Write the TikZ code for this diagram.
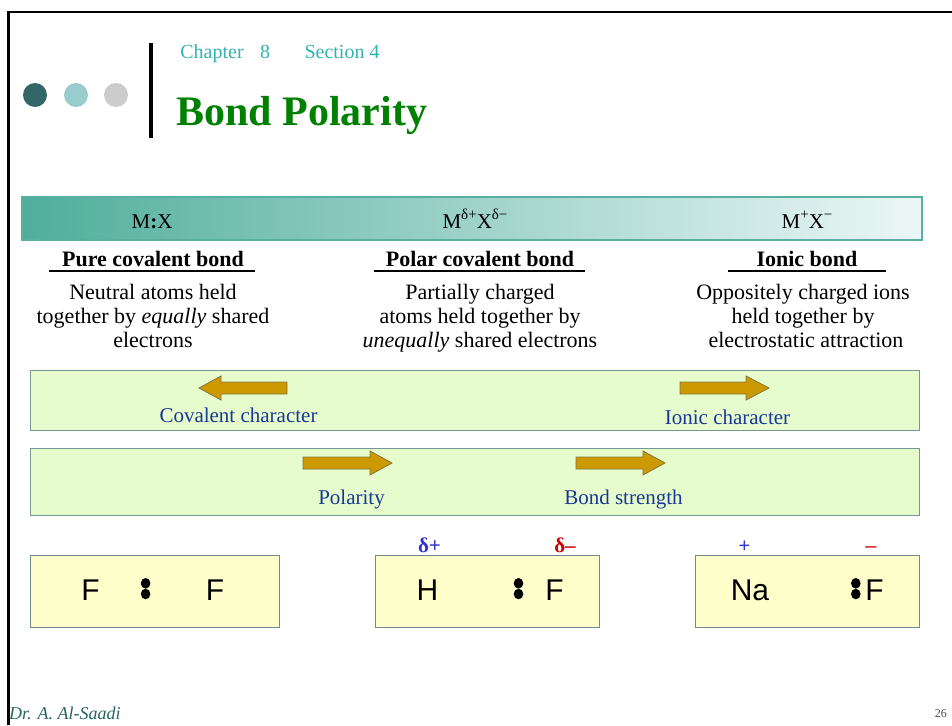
\documentclass[tikz,border=0pt]{standalone}
\usepackage{fontspec}
\setmainfont{Liberation Serif}
\newfontfamily\arialf{Liberation Sans}
\newcommand\mysupx[1]{\raisebox{0.42em}{\fontsize{15}{15}\selectfont #1}}
\definecolor{chapc}{RGB}{51,178,178}
\definecolor{titlec}{RGB}{0,128,0}
\definecolor{dotA}{RGB}{51,102,102}
\definecolor{dotB}{RGB}{153,204,204}
\definecolor{dotC}{RGB}{204,204,204}
\definecolor{gradL}{RGB}{80,174,156}
\definecolor{gradM}{RGB}{214,239,235}
\definecolor{gradR}{RGB}{236,247,247}
\definecolor{gradB}{RGB}{90,176,160}
\definecolor{bandfill}{RGB}{230,252,204}
\definecolor{bandborder}{RGB}{120,150,150}
\definecolor{boxfill}{RGB}{255,255,204}
\definecolor{boxborder}{RGB}{110,140,140}
\definecolor{arrowfill}{RGB}{204,153,0}
\definecolor{arrowborder}{RGB}{128,120,60}
\definecolor{navy}{RGB}{25,55,150}
\definecolor{plusc}{RGB}{51,51,204}
\definecolor{minusc}{RGB}{204,0,0}
\definecolor{footc}{RGB}{40,100,100}
\begin{document}
\begin{tikzpicture}[x=1pt,y=-1pt,
  txt/.style={anchor=base,inner sep=0pt},
  desc/.style={txt,font=\fontsize{22}{22}\selectfont},
  headtxt/.style={txt,font=\bfseries\fontsize{22}{22}\selectfont},
  bartxt/.style={txt,font=\fontsize{21}{21}\selectfont},
  lbl/.style={txt,text=navy,font=\fontsize{21}{21}\selectfont},
  atom/.style={txt,font=\arialf\fontsize{30}{30}\selectfont},
  charge/.style={txt,font=\bfseries\fontsize{21}{21}\selectfont},
  band/.style={draw=bandborder,fill=bandfill,line width=1pt},
  atombox/.style={draw=boxborder,fill=boxfill,line width=1pt},
  arrowshape/.style={fill=arrowfill,draw=arrowborder,line width=0.8pt},
  edot/.style={fill=black}]
\useasboundingbox (0,0) rectangle (952,725);
\fill[white] (0,0) rectangle (952,725);
% frame
\draw[line width=2.5pt] (8.3,725) -- (8.3,12) -- (952,12);
% dots and bar
\fill[dotA] (35,95) circle (12);
\fill[dotB] (76,95) circle (12);
\fill[dotC] (116,95) circle (12);
\fill[black] (149,43) rectangle (153,138);
% titles
\node[txt,text=chapc,font=\fontsize{20}{20}\selectfont] (chap) at (212,59) {Chapter};
\node[txt,text=chapc,font=\fontsize{20}{20}\selectfont] (chapn) at (265,59) {8};
\node[txt,text=chapc,font=\fontsize{20}{20}\selectfont] (sect) at (342,59) {Section 4};
\node[txt,anchor=base west,text=titlec,font=\bfseries\fontsize{42}{42}\selectfont] (title) at (176,125) {Bond Polarity};
% gradient bar
\shade[left color=gradL,middle color=gradM,right color=gradR] (22,197) rectangle (922,240);
\draw[gradB,line width=1.5pt] (22,197) rectangle (922,240);
\node[bartxt] (mx) at (152,228) {M{\bfseries :}X};
\node[bartxt] (mdx) at (475,228) {M\mysupx{δ+}X\mysupx{δ−}};
\node[bartxt] (mpx) at (807,228) {M\mysupx{+}X\mysupx{−}};
% headings
\node[headtxt] (h1) at (153,266) {Pure covalent bond};
\node[headtxt] (h2) at (480,266) {Polar covalent bond};
\node[headtxt] (h3) at (807,266) {Ionic bond};
\draw[line width=1.8pt] (49,271) -- (255,271);
\draw[line width=1.8pt] (374,271) -- (585,271);
\draw[line width=1.8pt] (728,271) -- (886,271);
% descriptions
\node[desc] (d11) at (153,299) {Neutral atoms held};
\node[desc] (d12) at (153,323) {together by \textit{equally} shared};
\node[desc] (d13) at (153,347) {electrons};
\node[desc] (d21) at (480,299) {Partially charged};
\node[desc] (d22) at (480,323) {atoms held together by};
\node[desc] (d23) at (480,347) {\textit{unequally} shared electrons};
\node[desc] (d31) at (803,299) {Oppositely charged ions};
\node[desc] (d32) at (803,323) {held together by};
\node[desc] (d33) at (806,347) {electrostatic attraction};
% band 1
\draw[band] (30,370) rectangle (919,430);
\draw[arrowshape] (287,382) -- (221,382) -- (221,376) -- (199,388) -- (221,400) -- (221,394) -- (287,394) -- cycle;
\draw[arrowshape] (680,382) -- (746,382) -- (746,376) -- (769,388) -- (746,400) -- (746,394) -- (680,394) -- cycle;
\node[lbl] (cov) at (238.5,422) {Covalent character};
\node[lbl] (ion) at (727.5,424) {Ionic character};
% band 2
\draw[band] (30,448) rectangle (919,515);
\draw[arrowshape] (303,457) -- (370,457) -- (370,451) -- (392,463) -- (370,475) -- (370,469) -- (303,469) -- cycle;
\draw[arrowshape] (576,457) -- (643,457) -- (643,451) -- (665,463) -- (643,475) -- (643,469) -- (576,469) -- cycle;
\node[lbl] (pol) at (351.5,504) {Polarity};
\node[lbl] (bst) at (623.5,504) {Bond strength};
% atom boxes
\draw[atombox] (30,555) rectangle (279,627);
\draw[atombox] (375,555) rectangle (599,627);
\draw[atombox] (695,555) rectangle (919,627);
\node[atom] (f1) at (90.5,600) {F};
\fill[edot] (145.6,583.3) ellipse (4.8 and 5.3);
\fill[edot] (145.6,594) ellipse (4.8 and 5.3);
\node[atom] (f2) at (215,600) {F};
\node[atom] (h) at (427.5,600) {H};
\fill[edot] (518.5,583.3) ellipse (4.8 and 5.3);
\fill[edot] (518.5,594) ellipse (4.8 and 5.3);
\node[atom] (f3) at (554.5,600) {F};
\node[atom] (na) at (750,600) {Na};
\fill[edot] (855.8,583.3) ellipse (4.8 and 5.3);
\fill[edot] (855.8,594) ellipse (4.8 and 5.3);
\node[atom] (f4) at (874.5,600) {F};
% charges
\node[charge,text=plusc] (dp) at (429.5,552) {δ+};
\node[charge,text=minusc] (dm) at (565,552) {δ–};
\node[txt,text=plusc,font=\arialf\fontsize{20}{20}\selectfont] (pp) at (744.5,552) {+};
\node[txt,text=minusc,font=\arialf\fontsize{20}{20}\selectfont] (mm) at (871,552) {–};
% footer
\node[txt,anchor=base west,text=footc,font=\itshape\fontsize{18}{18}\selectfont] (foot) at (9,719) {Dr. A. Al-Saadi};
\node[txt,anchor=base east,text=black!70,font=\fontsize{12}{12}\selectfont] (pg) at (947,717) {26};
\end{tikzpicture}
\end{document}
